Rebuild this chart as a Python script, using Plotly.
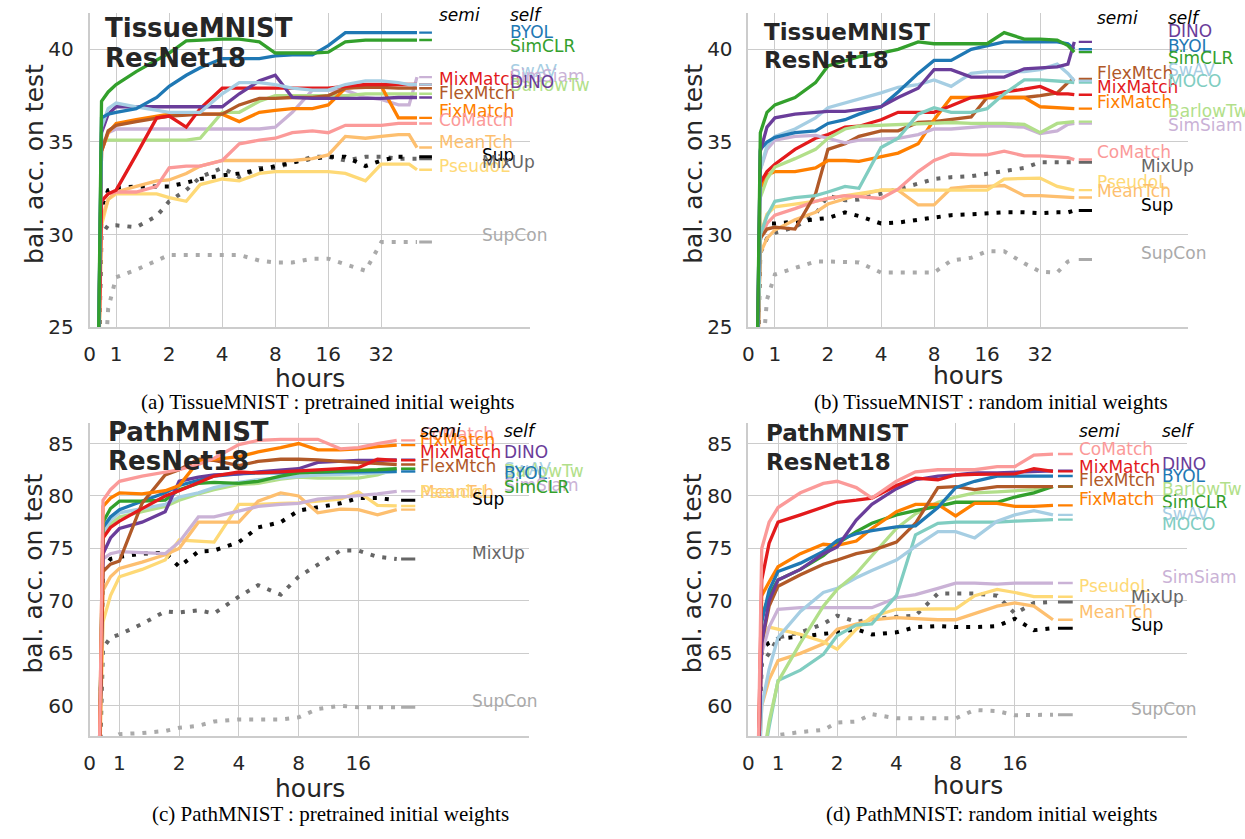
import math
import plotly.graph_objects as go

# ---------------- data (hours grid + balanced accuracy) ----------------
HOURS_A = [0.3, 0.45, 0.7, 1, 1.3, 1.7, 2, 2.5, 3, 4, 5, 6.5, 8, 10, 13, 16, 20, 26, 32, 40, 46, 51]
HOURS_B = [0.3, 0.45, 0.7, 1, 1.3, 1.7, 2, 2.5, 3, 4, 5, 6.5, 8, 10, 13, 16, 20, 26, 32, 40, 46, 50]
HOURS_CD = [0.3, 0.45, 0.7, 1, 1.3, 1.7, 2, 2.5, 3, 4, 5, 6.5, 8, 10, 13, 16, 20, 25]

X_TICKS_AB = [0, 1, 2, 4, 8, 16, 32]
X_TICKS_CD = [0, 1, 2, 4, 8, 16]
Y_TICKS_AB = [25, 30, 35, 40]
Y_TICKS_CD = [60, 65, 70, 75, 80, 85]

# (a) TissueMNIST, pretrained
a_simclr = [20, 37.2, 37.7, 38.1, 38.8, 39.4, 39.8, 40.45, 40.5, 40.55, 40.55, 40.4, 39.8, 39.8, 39.8, 39.85, 40.4, 40.5, 40.5, 40.5, 40.5, 40.5]
a_byol = [20, 36.3, 36.5, 36.6, 36.8, 37.4, 38.0, 38.6, 39.0, 39.5, 39.5, 39.5, 39.65, 39.7, 39.7, 40.2, 40.9, 40.9, 40.9, 40.9, 40.9, 40.9]
a_dino = [20, 35.5, 36.5, 36.9, 36.9, 36.9, 36.9, 36.9, 36.9, 36.9, 37.6, 38.3, 38.6, 37.4, 37.35, 37.35, 37.35, 37.35, 37.35, 37.4, 37.4, 37.4]
a_swav = [20, 35.8, 36.8, 37.1, 36.9, 36.7, 36.6, 36.6, 36.6, 37.6, 38.2, 38.2, 38.1, 37.9, 37.8, 37.8, 38.1, 38.3, 38.3, 38.2, 38.1, 38.1]
a_barlow = [20, 35.1, 35.1, 35.1, 35.1, 35.1, 35.1, 35.1, 35.2, 36.6, 36.6, 37.2, 37.5, 37.5, 37.5, 37.5, 37.5, 37.6, 37.6, 37.6, 37.6, 37.6]
a_simsiam = [20, 34.5, 35.5, 35.7, 35.7, 35.7, 35.7, 35.7, 35.7, 35.7, 35.7, 35.7, 35.8, 36.6, 37.8, 37.8, 37.8, 37.4, 37.3, 37.0, 37.0, 38.5]
a_mixmatch = [20, 31.8, 32.2, 32.4, 34.3, 36.3, 36.4, 35.8, 36.8, 37.9, 37.9, 37.9, 37.9, 37.9, 37.9, 37.9, 38.0, 38.1, 38.1, 38.1, 38.1, 38.1]
a_flex = [20, 34.5, 35.6, 35.9, 36.1, 36.3, 36.4, 36.45, 36.5, 36.5, 37.0, 37.35, 37.35, 37.4, 37.4, 37.5, 37.9, 37.95, 37.95, 37.9, 37.9, 37.9]
a_fix = [20, 34.5, 35.5, 36.0, 36.2, 36.4, 36.5, 36.5, 36.5, 36.5, 36.1, 36.6, 36.7, 36.8, 36.8, 37.0, 37.9, 38.0, 38.0, 36.3, 36.3, 36.3]
a_comatch = [20, 31.8, 32.2, 32.3, 32.3, 32.6, 33.6, 33.7, 33.7, 34.0, 34.9, 35.1, 35.2, 35.5, 35.6, 35.5, 35.9, 35.9, 35.9, 36.0, 36.0, 36.0]
a_meantch = [20, 30.8, 31.9, 32.3, 32.6, 32.9, 32.95, 33.3, 33.7, 34.0, 34.0, 34.0, 34.0, 34.0, 34.1, 34.3, 35.3, 35.2, 35.3, 35.4, 35.4, 34.7]
a_pseudo = [20, 30.5, 31.9, 32.2, 32.2, 32.2, 32.0, 31.8, 32.7, 33.0, 32.9, 33.3, 33.4, 33.4, 33.4, 33.4, 33.3, 32.9, 33.8, 33.8, 33.8, 33.5]
a_sup = [20, 31.5, 32.4, 32.5, 32.6, 32.6, 32.6, 32.8, 33.0, 33.2, 33.3, 33.5, 33.7, 33.9, 34.1, 34.2, 34.2, 33.7, 34.0, 34.2, 34.2, None]
a_mixup = [20, 30.0, 30.5, 30.5, 30.4, 31.0, 31.8, 32.4, 33.1, 33.6, 33.1, 33.6, 33.6, 33.9, 34.2, 34.2, 34.0, 34.2, 34.2, 34.1, 34.1, 34.1]
a_supcon = [None, 20, 26.0, 27.7, 28.1, 28.6, 28.9, 28.9, 28.9, 28.9, 28.9, 28.6, 28.5, 28.5, 28.7, 28.7, 28.4, 28.05, 29.6, 29.6, 29.6, 29.6]

# (b) TissueMNIST, random init
b_simclr = [20, 35.5, 36.6, 37.0, 37.4, 38.2, 39.1, 39.4, 39.6, 39.8, 40.0, 40.4, 40.3, 40.3, 40.3, 40.3, 40.9, 40.55, 40.55, 40.5, 40.2, 39.85]
b_dino = [20, 34.5, 35.8, 36.3, 36.5, 36.6, 36.65, 36.65, 36.75, 36.9, 37.4, 37.9, 38.9, 38.9, 38.5, 38.5, 38.5, 38.95, 39.0, 39.05, 39.2, 40.4]
b_byol = [20, 34.6, 35.0, 35.25, 35.5, 35.6, 36.0, 36.2, 36.5, 36.9, 37.7, 38.7, 39.4, 39.4, 40.0, 40.2, 40.4, 40.4, 40.4, 40.4, 40.3, 40.0]
b_swav = [20, 33.5, 34.8, 35.3, 35.7, 36.3, 36.85, 37.1, 37.3, 37.65, 37.95, 38.1, 38.35, 38.0, 38.7, 38.8, 38.8, 38.8, 38.9, 39.2, 38.7, 38.3]
b_moco = [20, 30.0, 31.0, 31.8, 32.0, 32.1, 32.3, 32.6, 32.5, 34.7, 35.2, 36.5, 36.85, 36.6, 36.6, 36.8, 37.6, 38.35, 38.35, 38.3, 38.25, 38.2]
b_barlow = [20, 32.0, 33.0, 33.65, 34.1, 34.6, 35.2, 35.7, 35.85, 35.9, 35.95, 36.0, 36.05, 36.05, 36.0, 36.0, 36.0, 35.95, 35.5, 36.0, 36.05, 36.1]
b_simsiam = [20, 33.5, 34.6, 35.1, 35.3, 35.35, 35.2, 34.95, 35.1, 35.15, 35.2, 35.4, 35.7, 35.7, 35.8, 35.85, 35.85, 35.8, 35.45, 35.6, 35.95, 36.0]
b_flex = [20, 29.8, 30.3, 30.4, 30.3, 32.2, 34.6, 34.9, 35.3, 35.6, 35.6, 36.05, 36.1, 36.2, 36.35, 37.4, 37.4, 37.4, 37.5, 37.65, 38.2, 38.4]
b_mixmatch = [20, 32.8, 33.4, 33.8, 34.6, 35.2, 35.4, 35.8, 35.85, 36.2, 36.6, 36.6, 36.6, 36.95, 37.4, 37.5, 37.7, 37.85, 38.0, 37.6, 37.6, 37.55]
b_fix = [20, 32.5, 33.2, 33.4, 33.4, 33.6, 34.0, 34.0, 33.95, 34.2, 34.4, 34.9, 36.2, 37.4, 37.4, 37.4, 37.4, 37.4, 36.9, 36.85, 36.85, 36.8]
b_comatch = [20, 29.8, 30.6, 31.05, 31.4, 31.8, 31.95, 32.1, 32.05, 31.95, 32.45, 33.4, 34.0, 34.35, 34.3, 34.3, 34.5, 34.25, 34.25, 34.2, 34.15, 34.05]
b_pseudo = [20, 30.0, 31.1, 31.5, 31.65, 31.8, 31.95, 32.1, 32.25, 32.4, 32.4, 32.4, 32.4, 32.4, 32.4, 32.4, 33.0, 33.05, 33.05, 32.6, 32.45, 32.4]
b_meantch = [20, 29.0, 29.8, 30.25, 30.8, 31.2, 31.65, 31.95, 32.15, 32.4, 32.4, 31.6, 31.6, 32.5, 32.6, 32.6, 32.65, 32.1, 32.1, 32.05, 32.0, 32.0]
b_sup = [20, 30.2, 30.6, 30.6, 30.7, 30.8, 30.9, 31.2, 31.0, 30.6, 30.65, 30.8, 30.9, 31.05, 31.1, 31.15, 31.2, 31.2, 31.15, 31.2, 31.2, 31.3]
b_mixup = [20, 29.0, 29.8, 30.1, 30.4, 31.1, 32.1, 31.85, 31.9, 32.2, 32.45, 32.75, 33.0, 33.1, 33.15, 33.3, 33.45, 33.6, 33.9, 33.9, 33.9, 33.9]
b_supcon = [None, 22, 26.5, 27.85, 28.2, 28.55, 28.55, 28.55, 28.5, 27.95, 27.95, 27.95, 27.95, 28.6, 28.75, 29.1, 29.1, 28.45, 28.0, 27.95, 28.55, 28.65]

# (c) PathMNIST, pretrained
c_comatch = [50, 79.6, 80.6, 81.4, 81.9, 82.3, 82.5, 83.0, 83.6, 84.9, 85.3, 85.4, 85.4, 85.4, 84.5, 84.6, 85.0, 85.3]
c_fix = [50, 79.0, 79.8, 80.3, 80.2, 80.5, 81.0, 83.3, 83.5, 83.75, 84.2, 84.6, 85.0, 84.4, 84.4, 84.5, 84.7, 84.85]
c_mixmatch = [50, 76.0, 77.0, 77.6, 78.8, 80.0, 80.5, 81.3, 81.9, 82.3, 82.2, 82.3, 82.4, 82.5, 82.6, 82.7, 83.5, 83.4]
c_flex = [50, 72.8, 73.5, 73.8, 79.3, 82.0, 82.5, 83.5, 83.4, 82.9, 83.3, 83.5, 83.5, 83.45, 83.3, 83.2, 83.1, 83.0]
c_dino = [50, 74.5, 76.0, 76.9, 77.5, 78.5, 81.4, 81.8, 82.0, 82.1, 82.3, 82.5, 82.6, 83.2, 83.35, 83.4, 83.4, 83.45]
c_simclr = [50, 77.5, 78.8, 79.5, 79.5, 79.6, 80.6, 81.2, 81.3, 81.2, 81.4, 81.9, 82.2, 82.3, 82.4, 82.45, 82.5, 82.6]
c_byol = [50, 77.0, 78.0, 78.7, 79.5, 80.3, 81.0, 81.5, 81.9, 82.1, 82.2, 82.2, 82.25, 82.3, 82.3, 82.3, 82.3, 82.35]
c_swav = [50, 76.5, 77.7, 78.4, 78.8, 79.2, 79.9, 80.3, 80.8, 81.3, 81.55, 81.7, 81.85, 82.0, 82.05, 82.1, 82.2, 82.3]
c_barlow = [50, 76.5, 77.3, 78.0, 78.5, 79.0, 79.6, 80.2, 80.6, 81.1, 81.2, 81.6, 81.8, 81.7, 81.7, 81.7, 82.0, 82.6]
c_simsiam = [50, 74.0, 74.5, 74.7, 74.6, 74.5, 75.6, 78.0, 78.0, 78.6, 79.0, 79.2, 79.3, 79.7, 79.9, 80.0, 80.2, 80.45]
c_meantch = [50, 71.0, 72.3, 73.1, 73.7, 74.4, 75.0, 77.5, 77.5, 77.5, 79.5, 80.3, 80.0, 78.4, 78.75, 78.7, 78.2, 78.7]
c_pseudo = [50, 68.0, 70.5, 72.3, 73.0, 73.9, 75.8, 75.7, 75.6, 79.2, 79.2, 79.3, 79.35, 79.5, 79.7, 80.4, 79.1, 79.05]
c_sup = [50, 73.0, 74.0, 74.2, 74.5, 74.6, 73.25, 74.7, 74.8, 75.6, 77.0, 77.5, 78.6, 78.9, 79.3, 79.8, 79.8, 79.6]
c_mixup = [50, 65.5, 66.5, 66.8, 67.8, 69.0, 68.9, 69.1, 68.8, 70.4, 71.5, 70.6, 72.3, 73.5, 74.8, 74.8, 74.2, 74.0]
c_supcon = [50, 56.0, 56.9, 57.3, 57.4, 57.6, 57.9, 58.1, 58.5, 58.7, 58.7, 58.7, 58.9, 59.7, 60.0, 59.85, 59.85, 59.85]

# (d) PathMNIST, random init
d_comatch = [50, 75.0, 77.5, 78.9, 80.3, 81.2, 81.4, 80.8, 79.8, 81.4, 82.3, 82.5, 82.5, 82.5, 82.8, 82.8, 83.9, 84.0]
d_mixmatch = [50, 72.0, 75.5, 77.5, 78.2, 78.9, 79.4, 79.6, 79.8, 81.0, 81.7, 81.55, 82.0, 82.05, 82.05, 82.1, 82.6, 82.35]
d_dino = [50, 66.0, 70.0, 72.0, 73.0, 74.5, 75.15, 77.7, 79.2, 80.7, 81.55, 81.9, 82.0, 82.2, 82.2, 82.25, 82.3, 82.4]
d_byol = [50, 68.0, 71.0, 72.8, 73.6, 74.7, 75.75, 76.4, 76.7, 77.05, 77.15, 78.9, 80.8, 81.4, 81.9, 81.9, 81.9, 81.9]
d_flex = [50, 66.0, 69.5, 71.4, 72.5, 73.5, 73.9, 74.5, 74.8, 75.6, 77.4, 80.8, 80.9, 80.6, 80.9, 80.9, 80.9, 80.9]
d_fix = [50, 70.5, 71.8, 73.25, 74.5, 75.4, 75.3, 75.7, 76.9, 78.5, 79.2, 79.2, 78.1, 79.3, 79.3, 79.0, 79.0, 79.1]
d_simclr = [50, 68.5, 70.5, 72.0, 73.0, 74.3, 75.45, 76.6, 77.4, 78.2, 78.6, 79.0, 79.4, 79.4, 79.4, 79.9, 80.3, 80.9]
d_barlow = [50, 54.0, 58.5, 62.3, 66.0, 69.5, 71.1, 72.6, 74.3, 76.9, 78.3, 79.4, 79.9, 80.3, 80.4, 80.5, 80.6, 80.9]
d_swav = [50, 60.0, 63.5, 66.5, 69.0, 70.8, 71.2, 72.2, 72.9, 73.9, 75.2, 76.6, 76.6, 76.0, 77.6, 78.2, 78.6, 78.2]
d_moco = [50, 54.0, 58.0, 62.4, 63.4, 64.9, 66.7, 67.7, 67.8, 70.5, 76.3, 77.4, 77.5, 77.5, 77.5, 77.6, 77.7, 77.75]
d_simsiam = [50, 65.0, 67.5, 69.2, 69.35, 69.35, 69.35, 69.35, 69.35, 70.3, 70.6, 71.2, 71.7, 71.7, 71.6, 71.7, 71.7, 71.7]
d_pseudo = [50, 66.5, 67.5, 67.3, 66.8, 66.1, 65.4, 67.3, 68.5, 69.2, 69.2, 69.2, 69.25, 70.5, 71.1, 70.8, 70.4, 70.4]
d_meantch = [50, 60.0, 62.5, 64.3, 65.0, 65.9, 67.3, 67.8, 68.2, 68.4, 68.3, 68.2, 68.2, 68.8, 69.5, 69.8, 69.5, 68.2]
d_sup = [50, 65.5, 66.0, 66.4, 66.6, 66.8, 67.0, 67.3, 66.8, 67.0, 67.5, 67.6, 67.5, 67.5, 67.6, 68.3, 67.2, 67.4]
d_mixup = [50, 64.0, 65.0, 66.5, 67.0, 67.8, 68.6, 68.0, 68.3, 68.5, 68.6, 70.7, 70.7, 70.7, 70.5, 68.8, 69.8, 69.9]
d_supcon = [50, 55.0, 56.5, 57.2, 57.5, 57.7, 58.4, 58.5, 59.2, 58.8, 58.8, 58.8, 58.8, 59.6, 59.5, 59.1, 59.1, 59.15]

# label placement values (y in accuracy units)
A_SEMI_LABELS = [("MixMatch", 38.4), ("FlexMtch", 37.66), ("FixMatch", 36.65), ("CoMatch", 36.2), ("MeanTch", 35.0), ("PseudoL", 33.7)]
A_SELF_LABELS = [("BYOL", 40.96), ("SimCLR", 40.16), ("SwAV", 38.83), ("SimSiam", 38.56), ("BarlowTw", 38.08), ("DINO", 38.25)]
A_BASE_LABELS = [("Sup", 34.3), ("MixUp", 33.9), ("SupCon", 30.0)]
B_SEMI_LABELS = [("FlexMtch", 38.72), ("MixMatch", 37.98), ("FixMatch", 37.13), ("CoMatch", 34.47), ("PseudoL", 32.82), ("MeanTch", 32.34)]
B_SELF_LABELS = [("DINO", 41.01), ("BYOL", 40.16), ("SimCLR", 39.52), ("SwAV", 38.88), ("MOCO", 38.3), ("BarlowTw", 36.65), ("SimSiam", 35.9)]
B_BASE_LABELS = [("MixUp", 33.72), ("Sup", 31.6), ("SupCon", 28.99)]
C_SEMI_LABELS = [("CoMatch", 85.95), ("FixMatch", 85.3), ("MixMatch", 84.2), ("FlexMtch", 82.9), ("MeanTch", 80.4), ("PseudoL", 80.4)]
C_SELF_LABELS = [("DINO", 84.2), ("SwAV", 82.6), ("BarlowTw", 82.4), ("BYOL", 82.2), ("SimSiam", 81.0), ("SimCLR", 80.9)]
C_BASE_LABELS = [("Sup", 79.7), ("MixUp", 74.6), ("SupCon", 60.5)]
D_SEMI_LABELS = [("CoMatch", 84.47), ("MixMatch", 82.74), ("FlexMtch", 81.5), ("FixMatch", 79.7), ("PseudoL", 71.4), ("MeanTch", 68.9)]
D_SELF_LABELS = [("DINO", 83.06), ("BYOL", 81.87), ("BarlowTw", 80.7), ("SimCLR", 79.4), ("SwAV", 78.3), ("MOCO", 77.3), ("SimSiam", 72.25)]
D_BASE_LABELS = [("MixUp", 70.37), ("Sup", 67.7), ("SupCon", 59.7)]

CAPTIONS = ["(a) TissueMNIST : pretrained initial weights",
            "(b) TissueMNIST : random initial weights",
            "(c) PathMNIST : pretrained initial weights",
            "(d) PathMNIST: random initial weights"]
TITLES = [("TissueMNIST", "ResNet18"), ("TissueMNIST", "ResNet18"),
          ("PathMNIST", "ResNet18"), ("PathMNIST", "ResNet18")]

# ---------------- styles ----------------
COLORS = {
    "BYOL": "#1f78b4", "SimCLR": "#33a02c", "SwAV": "#a6cee3", "BarlowTw": "#b2df8a",
    "DINO": "#6a3d9a", "SimSiam": "#cab2d6", "MOCO": "#80cdc1",
    "MixMatch": "#e31a1c", "FixMatch": "#ff7f00", "FlexMtch": "#b15928",
    "CoMatch": "#fb9a99", "MeanTch": "#fdbf6f", "PseudoL": "#fed976",
    "Sup": "#000000", "MixUp": "#666666", "SupCon": "#aaaaaa",
}
DOTTED = {"Sup", "MixUp", "SupCon"}
FONT = "DejaVu Sans"
DARK = "#262626"
GRID = "#cccccc"
W, H = 1245, 839


def tx(h):
    """hours -> axis coordinate (linear below 1 h, log2 above)."""
    return 0.5 * h if h < 1 else 0.5 + math.log2(h)


PANELS = [
    dict(hours=HOURS_A, series=[("SupCon", a_supcon), ("MixUp", a_mixup), ("Sup", a_sup),
                                ("PseudoL", a_pseudo), ("MeanTch", a_meantch), ("CoMatch", a_comatch),
                                ("SimSiam", a_simsiam), ("BarlowTw", a_barlow), ("FixMatch", a_fix),
                                ("FlexMtch", a_flex), ("MixMatch", a_mixmatch), ("DINO", a_dino),
                                ("SwAV", a_swav), ("BYOL", a_byol), ("SimCLR", a_simclr)],
         labels=(A_SEMI_LABELS, A_SELF_LABELS, A_BASE_LABELS), dash=(52.5, 62),
         xpx=(84, 527), ypx=(13, 332), yr=(25, 41.97), xticks=X_TICKS_AB, yticks=Y_TICKS_AB,
         xunits=(527 - 84) / 53.3,
         colx=(433, 504, 476), head_y=15, tsize=26, tx0=97, tbase=(38, 68),
         hours_y=384, cap=(324, 408), ylab_x=28),
    dict(hours=HOURS_B, series=[("SupCon", b_supcon), ("MixUp", b_mixup), ("Sup", b_sup),
                                ("MeanTch", b_meantch), ("PseudoL", b_pseudo), ("CoMatch", b_comatch),
                                ("FlexMtch", b_flex), ("FixMatch", b_fix), ("MixMatch", b_mixmatch),
                                ("SimSiam", b_simsiam), ("BarlowTw", b_barlow), ("MOCO", b_moco),
                                ("SwAV", b_swav), ("BYOL", b_byol), ("DINO", b_dino), ("SimCLR", b_simclr)],
         labels=(B_SEMI_LABELS, B_SELF_LABELS, B_BASE_LABELS), dash=(53, 63),
         xpx=(746, 1188), ypx=(13, 332), yr=(25, 41.97), xticks=X_TICKS_AB, yticks=Y_TICKS_AB,
         xunits=(1188 - 746) / 53.3,
         colx=(1094, 1166, 1138), head_y=18, tsize=23, tx0=760, tbase=(41, 69),
         hours_y=381, cap=(990, 408), ylab_x=690),
    dict(hours=HOURS_CD, series=[("SupCon", c_supcon), ("MixUp", c_mixup), ("Sup", c_sup),
                                 ("PseudoL", c_pseudo), ("MeanTch", c_meantch), ("SimSiam", c_simsiam),
                                 ("BarlowTw", c_barlow), ("SwAV", c_swav), ("BYOL", c_byol),
                                 ("SimCLR", c_simclr), ("DINO", c_dino), ("FlexMtch", c_flex),
                                 ("MixMatch", c_mixmatch), ("FixMatch", c_fix), ("CoMatch", c_comatch)],
         labels=(C_SEMI_LABELS, C_SELF_LABELS, C_BASE_LABELS), dash=(26.3, 31),
         xpx=(84, 526), ypx=(429, 747), yr=(57.09, 86.97), xticks=X_TICKS_CD, yticks=Y_TICKS_CD,
         xunits=(526 - 84) / 60.0,
         colx=(414, 498, 466), head_y=437, tsize=26, tx0=100, tbase=(447, 477),
         hours_y=800, cap=(326, 826), ylab_x=28),
    dict(hours=HOURS_CD, series=[("SupCon", d_supcon), ("MixUp", d_mixup), ("Sup", d_sup),
                                 ("MeanTch", d_meantch), ("PseudoL", d_pseudo), ("SimSiam", d_simsiam),
                                 ("MOCO", d_moco), ("SwAV", d_swav), ("BarlowTw", d_barlow),
                                 ("SimCLR", d_simclr), ("FixMatch", d_fix), ("FlexMtch", d_flex),
                                 ("BYOL", d_byol), ("DINO", d_dino), ("MixMatch", d_mixmatch),
                                 ("CoMatch", d_comatch)],
         labels=(D_SEMI_LABELS, D_SELF_LABELS, D_BASE_LABELS), dash=(26.5, 31.5),
         xpx=(746, 1187), ypx=(429, 747), yr=(57.09, 86.97), xticks=X_TICKS_CD, yticks=Y_TICKS_CD,
         xunits=(1187 - 746) / 59.5,
         colx=(1076, 1160, 1128), head_y=437, tsize=23, tx0=762, tbase=(447, 477),
         hours_y=797, cap=(990, 826), ylab_x=690),
]

fig = go.Figure()
annotations = []
layout_axes = {}

for i, p in enumerate(PANELS):
    n = "" if i == 0 else str(i + 1)
    xref, yref = "x" + n, "y" + n
    x0, x1 = p["xpx"]
    yt, yb = p["ypx"]
    layout_axes["xaxis" + n] = dict(
        domain=[x0 / W, x1 / W], anchor=yref, range=[0, p["xunits"]],
        tickvals=[tx(h) for h in p["xticks"]], ticktext=[str(h) for h in p["xticks"]],
        showgrid=True, gridcolor=GRID, gridwidth=1.3,
        showline=True, linecolor=GRID, linewidth=1.6, zeroline=False, ticks="",
        ticklabelstandoff=8, tickfont=dict(family=FONT, size=20, color=DARK), fixedrange=True)
    layout_axes["yaxis" + n] = dict(
        domain=[1 - yb / H, 1 - yt / H], anchor=xref, range=list(p["yr"]), tickvals=p["yticks"],
        showgrid=True, gridcolor=GRID, gridwidth=1.3, showline=True, linecolor=GRID, linewidth=1.6,
        zeroline=False, ticks="", ticklabelstandoff=10,
        tickfont=dict(family=FONT, size=20, color=DARK), fixedrange=True)

    xs = [tx(h) for h in p["hours"]]
    for name, vals in p["series"]:
        col = COLORS[name]
        if name in DOTTED:
            line = dict(color=col, width=4, dash="4px,8px")
        else:
            line = dict(color=col, width=3.3)
        fig.add_trace(go.Scatter(x=xs, y=vals, mode="lines", line=line, xaxis=xref, yaxis=yref,
                                 showlegend=False, hoverinfo="skip", connectgaps=False))
        last = [v for v in vals if v is not None][-1]
        fig.add_trace(go.Scatter(x=[tx(p["dash"][0]), tx(p["dash"][1])], y=[last, last], mode="lines",
                                 line=dict(color=col, width=3 if name in DOTTED else 2.4),
                                 xaxis=xref, yaxis=yref, showlegend=False, hoverinfo="skip"))

    semi, selfl, base = p["labels"]
    for group, cx in zip((semi, selfl, base), p["colx"]):
        for name, yv in group:
            annotations.append(dict(x=cx / W, xref="paper", y=yv, yref=yref, text=name,
                                    showarrow=False, xanchor="left", yanchor="middle",
                                    font=dict(family=FONT, size=17, color=COLORS[name])))
    for txt, cx in (("semi", p["colx"][0]), ("self", p["colx"][1])):
        annotations.append(dict(x=cx / W, xref="paper", y=1 - p["head_y"] / H, yref="paper",
                                text="<i>" + txt + "</i>", showarrow=False, xanchor="left",
                                yanchor="middle", font=dict(family=FONT, size=17, color="black")))
    # panel title (two lines)
    for txt, base_y in zip(TITLES[i], p["tbase"]):
        annotations.append(dict(x=p["tx0"] / W, xref="paper", y=1 - (base_y - 0.35 * p["tsize"]) / H,
                                yref="paper", text="<b>" + txt + "</b>", showarrow=False,
                                xanchor="left", yanchor="middle",
                                font=dict(family=FONT, size=p["tsize"], color=DARK)))
    # axis titles
    annotations.append(dict(x=(x0 + x1) / 2 / W, xref="paper", y=1 - p["hours_y"] / H, yref="paper",
                            text="hours", showarrow=False, xanchor="center", yanchor="middle",
                            font=dict(family=FONT, size=25, color=DARK)))
    annotations.append(dict(x=p["ylab_x"] / W, xref="paper", y=1 - ((yt + yb) / 2 - 6) / H, yref="paper",
                            text="bal. acc. on test", textangle=-90, showarrow=False,
                            xanchor="center", yanchor="middle",
                            font=dict(family=FONT, size=25, color=DARK)))
    annotations.append(dict(x=p["cap"][0] / W, xref="paper", y=1 - p["cap"][1] / H, yref="paper",
                            text=CAPTIONS[i], showarrow=False, xanchor="center", yanchor="middle",
                            font=dict(family="Liberation Serif", size=21, color="black")))

fig.update_layout(width=W, height=H, margin=dict(l=0, r=0, t=0, b=0), autosize=False,
                  plot_bgcolor="white", paper_bgcolor="white", annotations=annotations,
                  showlegend=False, **layout_axes)
fig.write_html("out.html")
